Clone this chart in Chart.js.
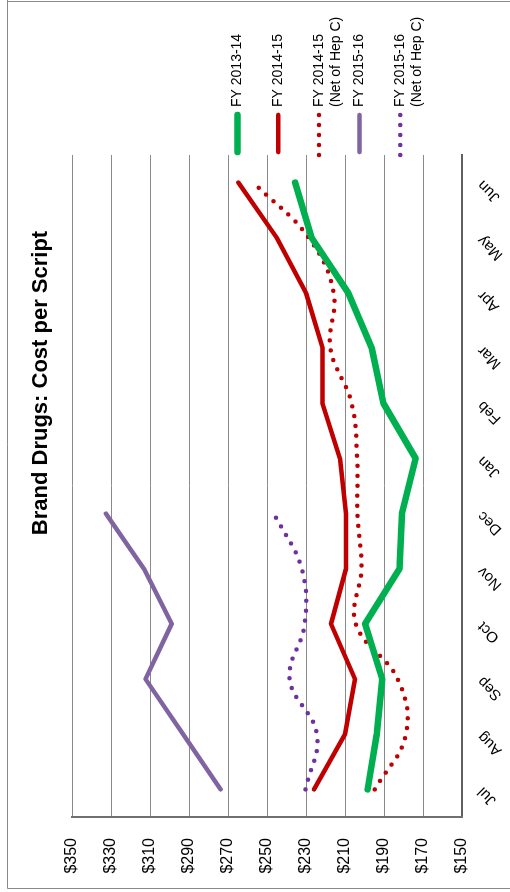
<!DOCTYPE html>
<html><head><meta charset="utf-8">
<script src="https://cdn.jsdelivr.net/npm/chart.js@4"></script>
<style>
html,body{margin:0;padding:0;background:#fff;overflow:hidden;width:510px;height:892px;}
#wrap{position:absolute;left:0;top:892px;width:892px;height:510px;transform-origin:0 0;transform:rotate(-90deg);}
canvas{display:block;}
</style></head><body>
<div id="wrap"><canvas id="c" width="892" height="510"></canvas></div>
<script>
const chartTitle = 'Brand Drugs: Cost per Script';
const months = ['Jul','Aug','Sep','Oct','Nov','Dec','Jan','Feb','Mar','Apr','May','Jun'];
const valueTicks = [150,170,190,210,230,250,270,290,310,330,350];
const seriesNames = [['FY 2013-14'],['FY 2014-15'],['FY 2014-15','(Net of Hep C)'],['FY 2015-16'],['FY 2015-16','(Net of Hep C)']];
const fy1314 = [198.4,193.7,190.9,199.7,182.1,180.8,173.8,190.3,196.3,208.3,227.1,235.6];
const fy1415 = [225.9,210.0,204.9,217.2,209.5,209.5,212.6,221.6,221.5,230.0,245.0,264.7];
const fy1415Net = [194.8,178.7,183.0,204.5,201.6,203.6,203.8,206.6,217.5,215.8,228.6,257.0];
const fy1516 = [273.8,293.0,312.3,298.9,313.1,332.6,null,null,null,null,null,null];
const fy1516Net = [230.3,224.4,238.4,230.7,232.2,246.5,null,null,null,null,null,null];

const FONT = '"Liberation Sans", Arial, sans-serif';

const decor = {
  id: 'decor',
  beforeDraw(chart) {
    const ctx = chart.ctx;
    ctx.save();
    ctx.strokeStyle = '#8a8a8a';
    ctx.lineWidth = 1;
    ctx.beginPath();
    ctx.moveTo(892, 7.5); ctx.lineTo(3.5, 7.5); ctx.lineTo(3.5, 510);
    ctx.moveTo(890.5, 7.5); ctx.lineTo(890.5, 510);
    ctx.stroke();
    ctx.restore();
  },
  afterDraw(chart) {
    const ctx = chart.ctx;
    ctx.save();
    ctx.fillStyle = '#000';
    ctx.font = 'bold 22px ' + FONT;
    ctx.textAlign = 'center';
    ctx.textBaseline = 'alphabetic';
    ctx.fillText(chartTitle, 509, 47);
    // legend
    const area = chart.chartArea;
    chart.data.datasets.forEach((ds, i) => {
      const y = 237.5 + i * 40.7;
      const x0 = area.right + 1, x1 = area.right + 41;
      ctx.strokeStyle = ds.borderColor;
      ctx.lineWidth = ds.borderWidth;
      ctx.lineCap = 'round';
      ctx.setLineDash(ds.borderDash || []);
      ctx.beginPath();
      if (ds.borderDash) { ctx.moveTo(x0 - 1, y); ctx.lineTo(x1 + 1, y); }
      else { ctx.moveTo(x0 + 2, y); ctx.lineTo(x1 - 1, y); }
      ctx.stroke();
      ctx.setLineDash([]);
      ctx.fillStyle = '#000';
      ctx.font = '14px ' + FONT;
      ctx.textAlign = 'left';
      ctx.textBaseline = 'middle';
      seriesNames[i].forEach((t, j) => ctx.fillText(t, area.right + 48, y + j * 17));
    });
    ctx.restore();
  }
};

const solid = (data, color, w) => ({
  label: '', data, borderColor: color, borderWidth: w, tension: 0,
  borderCapStyle: 'round', borderJoinStyle: 'round', pointRadius: 0, fill: false
});
const dotted = (data, color) => ({
  label: '', data, borderColor: color, borderWidth: 4.5, tension: 0.4,
  borderDash: [0, 10], borderCapStyle: 'round', pointRadius: 0, fill: false
});

const datasets = [
  solid(fy1314, '#00B050', 6.5),
  solid(fy1415, '#C00000', 4.5),
  dotted(fy1415Net, '#C00000'),
  solid(fy1516, '#8064A2', 4.5),
  dotted(fy1516Net, '#7030A0')
];
datasets.forEach((d, i) => d.label = seriesNames[i].join(' '));

new Chart(document.getElementById('c'), {
  type: 'line',
  data: { labels: months, datasets },
  options: {
    responsive: false,
    devicePixelRatio: 1,
    animation: false,
    layout: { padding: { top: 72, right: 155, bottom: 0, left: 0 } },
    plugins: { legend: { display: false }, title: { display: false }, tooltip: { enabled: false } },
    scales: {
      x: {
        type: 'category',
        offset: true,
        grid: { display: false, drawTicks: false },
        border: { display: true, color: '#606060', width: 2 },
        ticks: { color: '#000', font: { family: FONT, size: 15 }, minRotation: 45, maxRotation: 45, padding: 12, autoSkip: false },
        afterFit(s) { s.height = 48; }
      },
      y: {
        min: 150, max: 350,
        afterBuildTicks(s) { s.ticks = valueTicks.map(v => ({ value: v })); },
        grid: { color: '#8a8a8a', lineWidth: 1, drawTicks: false },
        border: { display: true, color: '#707070', width: 2 },
        ticks: { color: '#000', font: { family: FONT, size: 16 }, padding: 21, callback: v => '$' + v },
        afterFit(s) { s.width = 75; }
      }
    }
  },
  plugins: [decor]
});
</script>
</body></html>
